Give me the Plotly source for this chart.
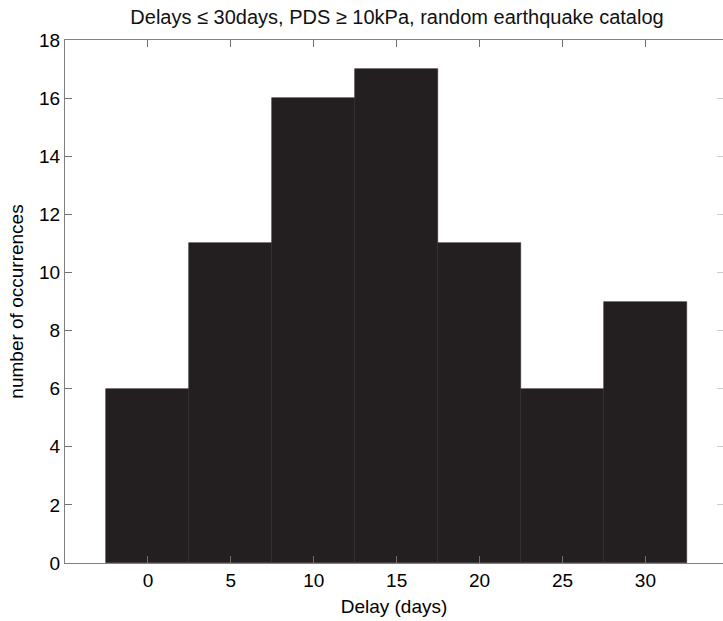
import plotly.graph_objects as go

delay_centers = [0, 5, 10, 15, 20, 25, 30]
occurrences = [6, 11, 16, 17, 11, 6, 9]
x_ticks = [0, 5, 10, 15, 20, 25, 30]
y_ticks = [0, 2, 4, 6, 8, 10, 12, 14, 16, 18]

fig = go.Figure()
fig.add_trace(go.Bar(
    x=delay_centers, y=occurrences, width=5,
    marker=dict(color="#231f20", line=dict(color="#2b2728", width=0.6)),
))
# empty trace so the right-hand tick axis is drawn
fig.add_trace(go.Scatter(x=[], y=[], yaxis="y2", showlegend=False))

font = "Arial, Liberation Sans, sans-serif"
fig.update_layout(
    width=723, height=621,
    margin=dict(l=65, r=0, t=40, b=58),
    paper_bgcolor="white", plot_bgcolor="white",
    showlegend=False,
    font=dict(family=font, size=19, color="black"),
    title=dict(text="Delays ≤ 30days, PDS ≥ 10kPa, random earthquake catalog",
               x=397 / 723, xref="container", xanchor="center",
               y=1 - 17 / 621, yref="container", yanchor="middle",
               font=dict(family=font, size=20, color="#111")),
    bargap=0,
    yaxis2=dict(overlaying="y", side="right", range=[0, 18], tickvals=y_ticks,
                ticks="inside", ticklen=6, tickcolor="#cccccc",
                showticklabels=False, showline=False, showgrid=False,
                zeroline=False),
)
fig.update_xaxes(
    range=[-5, 34.68], tickvals=x_ticks, ticks="inside", ticklen=7,
    tickcolor="#707070", showline=True, linecolor="#808080", linewidth=1.3,
    mirror="ticks", showgrid=False, zeroline=False,
    title=dict(text="Delay (days)", standoff=9, font=dict(size=19)),
    tickfont=dict(size=19),
)
fig.update_yaxes(
    selector=dict(overlaying=None),
    range=[0, 18], tickvals=y_ticks, ticks="inside", ticklen=7,
    tickcolor="#707070", showline=True, linecolor="#808080", linewidth=1.3,
    mirror=False, showgrid=False, zeroline=False,
    title=dict(text="number of occurrences", standoff=10, font=dict(size=19)),
    tickfont=dict(size=19),
)
fig.write_html("out.html")
